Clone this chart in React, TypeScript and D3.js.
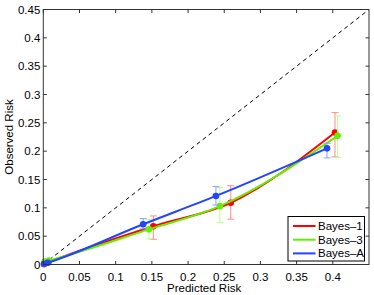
import React, {useEffect, useRef} from 'react';
import * as d3 from "d3";

const seriesNames = ["Bayes–1", "Bayes–3", "Bayes–A"]
const seriesColors = ["#ff0000", "#66ee00", "#2244ff"]
const barColors = ["#ff8a8a", "#b8ff90", "#8fa0ff"]

const predicted1 = [0.001, 0.007, 0.152, 0.259, 0.403]
const observed1 = [0.001, 0.004, 0.0675, 0.109, 0.233]
const lower1 = [0.001, 0.004, 0.0445, 0.080, 0.190]
const upper1 = [0.001, 0.004, 0.0857, 0.139, 0.268]

const predicted3 = [0.002, 0.008, 0.146, 0.244, 0.4066]
const observed3 = [0.005, 0.007, 0.062, 0.103, 0.227]
const lower3 = [0.005, 0.007, 0.045, 0.074, 0.189]
const upper3 = [0.005, 0.007, 0.079, 0.136, 0.262]

const predictedA = [0.001, 0.006, 0.138, 0.2385, 0.392]
const observedA = [0.001, 0.003, 0.071, 0.121, 0.205]
const lowerA = [0.001, 0.003, 0.063, 0.105, 0.188]
const upperA = [0.001, 0.003, 0.081, 0.1375, 0.214]

const xTicks = [0, 0.05, 0.1, 0.15, 0.2, 0.25, 0.3, 0.35, 0.4]
const yTicks = [0, 0.05, 0.1, 0.15, 0.2, 0.25, 0.3, 0.35, 0.4, 0.45]

const App = () => {

  const chart = useRef<SVGSVGElement>(null)

  useEffect(() => {
    const width = 374
    const height = 295
    const left = 43.3, right = 369, top = 9.5, bottom = 264.5

    const svg = d3.select(chart.current)
    svg.selectAll("*").remove()

    const x = d3.scaleLinear().domain([0, 0.45]).range([left, right])
    const y = d3.scaleLinear().domain([0, 0.45]).range([bottom, top])

    const font = "'Liberation Sans', Arial, sans-serif"

    // diagonal
    svg.append("line")
      .attr("x1", x(0)).attr("y1", y(0))
      .attr("x2", x(0.45)).attr("y2", y(0.45))
      .attr("stroke", "#000").attr("stroke-width", 1)
      .attr("stroke-dasharray", "4,3.5")

    const allSeries = [
      {px: predicted1, ob: observed1, lo: lower1, hi: upper1},
      {px: predicted3, ob: observed3, lo: lower3, hi: upper3},
      {px: predictedA, ob: observedA, lo: lowerA, hi: upperA},
    ]

    const line = d3.line<[number, number]>()
      .x(d => x(d[0]))
      .y(d => y(d[1]))
      .curve(d3.curveMonotoneX)

    allSeries.forEach((s, i) => {
      const g = svg.append("g")
      // error bars
      s.px.forEach((p, j) => {
        if (s.hi[j] - s.lo[j] < 0.002) return
        g.append("line")
          .attr("x1", x(p)).attr("x2", x(p))
          .attr("y1", y(s.lo[j])).attr("y2", y(s.hi[j]))
          .attr("stroke", barColors[i]).attr("stroke-width", 1)
        ;[s.lo[j], s.hi[j]].forEach(v => {
          g.append("line")
            .attr("x1", x(p) - 3.5).attr("x2", x(p) + 3.5)
            .attr("y1", y(v)).attr("y2", y(v))
            .attr("stroke", barColors[i]).attr("stroke-width", 1)
        })
      })
      const pts = s.px.map((p, j) => [p, s.ob[j]] as [number, number])
      g.append("path")
        .datum(pts)
        .attr("fill", "none")
        .attr("stroke", seriesColors[i])
        .attr("stroke-width", 2)
        .attr("d", line)
      g.selectAll("circle").data(pts).enter().append("circle")
        .attr("cx", d => x(d[0])).attr("cy", d => y(d[1]))
        .attr("r", 3.3).attr("fill", seriesColors[i])
    })

    // axes box
    svg.append("rect")
      .attr("x", left).attr("y", top)
      .attr("width", right - left).attr("height", bottom - top)
      .attr("fill", "none").attr("stroke", "#333").attr("stroke-width", 1)

    xTicks.forEach(t => {
      svg.append("line").attr("x1", x(t)).attr("x2", x(t)).attr("y1", bottom).attr("y2", bottom - 3.5).attr("stroke", "#333")
      svg.append("line").attr("x1", x(t)).attr("x2", x(t)).attr("y1", top).attr("y2", top + 3.5).attr("stroke", "#333")
      svg.append("text").attr("x", x(t)).attr("y", 281)
        .attr("text-anchor", "middle").attr("font-family", font).attr("font-size", 11.5)
        .text(String(t))
    })
    yTicks.forEach(t => {
      svg.append("line").attr("x1", left).attr("x2", left + 3.5).attr("y1", y(t)).attr("y2", y(t)).attr("stroke", "#333")
      svg.append("line").attr("x1", right).attr("x2", right - 3.5).attr("y1", y(t)).attr("y2", y(t)).attr("stroke", "#333")
      svg.append("text").attr("x", left - 3).attr("y", y(t) + 4)
        .attr("text-anchor", "end").attr("font-family", font).attr("font-size", 11.5)
        .text(String(t))
    })

    svg.append("text").attr("x", (left + right) / 2 - 2).attr("y", 292)
      .attr("text-anchor", "middle").attr("font-family", font).attr("font-size", 11.5)
      .text("Predicted Risk")
    svg.append("text")
      .attr("transform", `translate(13, ${(top + bottom) / 2}) rotate(-90)`)
      .attr("text-anchor", "middle").attr("font-family", font).attr("font-size", 11.5)
      .text("Observed Risk")

    // legend
    const lg = svg.append("g")
    lg.append("rect")
      .attr("x", 288).attr("y", 216.5).attr("width", 76.5).attr("height", 44.5)
      .attr("fill", "#fff").attr("stroke", "#000").attr("stroke-width", 1)
    seriesNames.forEach((n, i) => {
      const yy = 226 + i * 13.7
      lg.append("line").attr("x1", 293).attr("x2", 315.5).attr("y1", yy).attr("y2", yy)
        .attr("stroke", seriesColors[i]).attr("stroke-width", 2)
      lg.append("text").attr("x", 318).attr("y", yy + 4)
        .attr("font-family", font).attr("font-size", 11.5).text(n)
    })

    svg.attr("width", width).attr("height", height)
  }, [])

  return (
    <div style={{position: "absolute", left: 0, top: 0}}>
      <svg ref={chart} style={{display: "block", background: "#fff"}}/>
    </div>
  );
};

export default App;
